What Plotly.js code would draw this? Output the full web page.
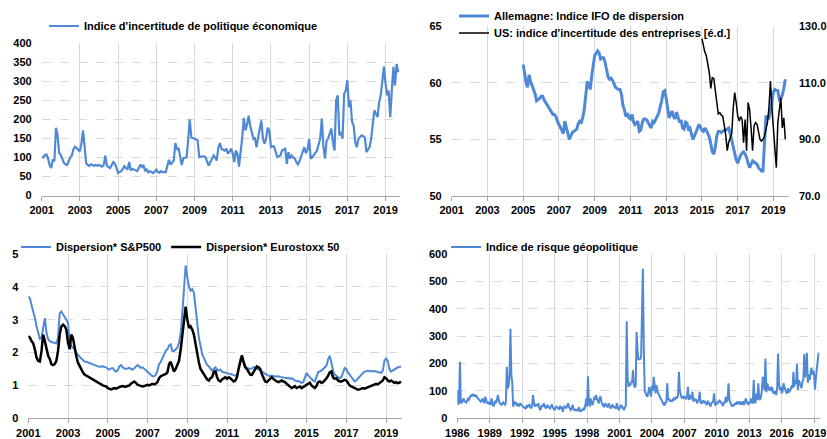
<!DOCTYPE html>
<html><head><meta charset="utf-8">
<script src="https://cdn.plot.ly/plotly-3.0.1.min.js"></script>
<style>html,body{margin:0;padding:0;background:#fff;}#chart{width:827px;height:439px;}</style>
</head><body><div id="chart"></div>
<script>
// ---------- DATA ----------
// Panel 1: Economic policy uncertainty index, monthly from 2001-01
const epuStart = [2001, 1];
const epu = [
102,100,106,108,98,80,72,95,90,178,158,112,
107,95,86,82,80,90,100,105,122,128,123,118,
116,138,171,130,85,80,78,82,80,78,80,78,
80,78,76,80,105,78,74,72,80,88,84,72,
59,62,64,70,77,72,68,88,66,70,68,66,
64,72,81,75,80,64,70,61,64,62,59,62,
68,62,60,64,61,62,61,78,94,81,87,92,
138,120,125,105,80,98,100,100,145,200,153,150,
149,147,145,101,103,103,103,100,88,79,88,95,
105,100,92,125,138,123,120,118,123,110,115,123,
110,88,118,110,76,110,150,204,171,185,210,184,
165,149,150,127,153,175,197,150,136,149,178,171,
127,129,129,115,101,103,105,118,120,123,83,114,
97,105,100,97,88,82,90,101,115,127,111,120,
149,97,100,105,112,118,136,150,202,130,97,145,
150,165,176,140,118,250,263,158,167,149,268,275,
303,232,250,193,184,140,127,149,155,158,156,153,
114,120,127,149,197,224,215,206,245,263,300,339,
294,263,276,206,276,338,289,346,324];

// Panel 2: IFO dispersion (left axis), monthly from 2005-01
const ifoStart = [2005, 1];
const ifo = [
61.6,60.8,60.0,59.6,60.7,60.1,59.8,59.4,59.0,58.4,58.5,58.6,
58.8,58.8,58.5,58.3,58.0,57.8,57.6,57.4,57.2,57.2,57.0,56.6,
56.3,56.0,55.7,55.5,56.6,56.0,55.4,55.0,55.3,55.6,55.7,55.8,
55.9,56.4,56.6,56.5,56.9,57.6,59.2,60.1,59.9,59.4,60.6,61.4,
62.4,62.6,62.8,62.6,62.1,62.2,62.2,61.8,61.0,60.5,60.3,60.4,
60.2,59.8,59.6,59.5,59.4,59.4,59.0,58.0,57.6,57.0,57.3,56.9,
56.8,57.2,56.6,56.3,56.4,56.6,55.7,55.8,56.5,56.8,56.8,56.7,
56.4,56.2,56.0,56.6,56.5,56.8,57.0,57.3,57.9,58.4,59.2,59.3,
58.6,57.5,56.9,57.2,57.5,57.0,56.8,57.4,57.0,56.5,56.7,56.0,
55.9,56.5,56.4,55.9,56.0,55.5,55.0,55.3,55.7,56.0,56.3,56.1,
55.8,55.7,56.0,55.8,55.5,55.2,54.6,53.9,53.7,54.3,55.3,55.7,
55.7,55.6,55.7,55.8,55.8,55.9,56.0,55.5,54.9,54.2,53.8,53.2,
52.9,53.3,53.6,53.8,53.9,53.7,53.4,52.9,52.5,52.8,53.1,53.0,
52.9,52.8,52.5,52.3,52.2,52.2,54.7,57.0,57.0,56.9,57.5,58.5,
59.2,59.4,59.3,59.3,58.5,58.6,58.9,59.5,60.3];

// Panel 2: US business uncertainty (right axis), monthly from 2015-01
const usStart = [2015, 1];
const usUnc = [
125.5,122.5,120.8,119.5,116,113.5,108,111.8,111.5,106.5,103,99,
99.4,98.5,98.2,95,91.5,86,89,90.5,92,101,106.5,103,
98.2,96.5,98,97,88.8,97,86,103,100.5,94,86,94.7,
95.9,95.3,92,90,89.4,90,91,93.5,96,101,110.6,101,
94,88,80,96,100,104.7,94,97.6,90];

// Panel 3: dispersion, monthly from 2001-01
const dispStart = [2001, 1];
const dispSP = [
3.72,3.64,3.45,3.27,3.06,2.80,2.60,2.42,2.45,2.80,3.05,2.60,
2.40,2.35,2.32,2.30,2.30,2.28,2.45,3.20,3.25,3.18,3.10,3.00,
2.90,2.30,2.20,2.15,2.10,2.00,1.92,1.88,1.82,1.76,1.73,1.72,
1.70,1.68,1.66,1.63,1.60,1.58,1.58,1.57,1.58,1.58,1.56,1.55,
1.50,1.48,1.52,1.53,1.46,1.42,1.45,1.58,1.62,1.55,1.52,1.50,
1.52,1.54,1.50,1.48,1.52,1.56,1.62,1.58,1.53,1.55,1.50,1.45,
1.40,1.35,1.30,1.28,1.28,1.32,1.45,1.65,1.72,1.84,1.95,2.05,
2.10,2.22,2.25,2.05,2.05,2.10,2.15,2.30,2.60,3.20,4.00,4.65,
4.29,4.00,3.88,3.93,3.83,3.30,2.86,2.45,2.20,1.95,1.84,1.70,
1.62,1.58,1.52,1.45,1.50,1.55,1.48,1.45,1.48,1.42,1.40,1.38,
1.38,1.36,1.35,1.33,1.32,1.30,1.30,1.55,1.80,1.88,1.70,1.60,
1.53,1.52,1.50,1.52,1.55,1.55,1.50,1.48,1.46,1.42,1.38,1.35,
1.32,1.30,1.28,1.30,1.28,1.27,1.27,1.28,1.26,1.25,1.24,1.22,
1.22,1.23,1.20,1.22,1.18,1.15,1.12,1.14,1.12,1.08,1.10,1.25,
1.38,1.30,1.25,1.22,1.15,1.12,1.25,1.40,1.43,1.45,1.50,1.55,
1.60,1.80,1.90,1.70,1.45,1.33,1.30,1.25,1.22,1.25,1.40,1.53,
1.50,1.38,1.33,1.25,1.18,1.12,1.15,1.22,1.28,1.32,1.38,1.42,
1.43,1.45,1.43,1.42,1.43,1.44,1.42,1.40,1.38,1.38,1.45,1.75,
1.82,1.75,1.50,1.42,1.45,1.48,1.50,1.55,1.55,1.58];
const dispEU = [
2.50,2.45,2.35,2.28,2.10,1.85,1.75,1.73,2.05,2.55,2.35,2.10,
1.90,1.80,1.65,1.62,1.65,1.75,2.05,2.55,2.80,2.85,2.80,2.70,
2.30,2.10,2.55,2.45,2.15,1.90,1.70,1.58,1.48,1.40,1.33,1.30,
1.25,1.22,1.20,1.18,1.15,1.12,1.08,1.05,1.02,1.00,0.98,0.97,
0.92,0.90,0.88,0.90,0.92,0.90,0.93,0.95,0.97,0.98,0.96,0.97,
0.98,1.00,1.05,1.10,1.12,1.08,1.02,1.00,0.98,0.97,0.98,1.00,
1.02,1.00,1.03,1.05,1.03,1.05,1.10,1.22,1.28,1.30,1.33,1.35,
1.40,1.65,1.72,1.55,1.42,1.50,1.62,1.75,2.10,2.55,3.00,3.40,
3.00,2.75,2.80,2.70,2.55,2.25,2.00,1.70,1.50,1.42,1.33,1.25,
1.18,1.15,1.22,1.25,1.40,1.45,1.25,1.15,1.12,1.18,1.22,1.25,
1.20,1.25,1.22,1.15,1.12,1.15,1.25,1.50,1.75,1.92,1.70,1.55,
1.50,1.40,1.33,1.32,1.40,1.50,1.58,1.55,1.50,1.35,1.20,1.12,
1.10,1.15,1.22,1.25,1.20,1.15,1.12,1.10,1.12,1.15,1.12,1.10,
1.05,1.00,0.95,0.92,0.95,0.98,0.92,0.95,0.97,0.92,0.95,0.98,
1.02,1.05,1.08,1.00,0.95,0.92,0.98,1.10,1.12,1.08,1.10,1.15,
1.22,1.30,1.40,1.43,1.25,1.20,1.22,1.15,1.12,1.12,1.15,1.17,
1.15,1.05,1.00,0.97,0.95,0.93,0.90,0.87,0.88,0.90,0.92,0.90,
0.92,0.95,0.98,1.00,1.00,1.02,1.05,1.03,1.08,1.12,1.15,1.25,
1.22,1.15,1.12,1.15,1.10,1.08,1.10,1.07,1.08,1.12];

// Panel 4: geopolitical risk index, monthly from 1986-01
const gprStart = [1986, 1];
const gpr = [
103,50,60,207,55,58,65,73,62,60,58,65,
72,68,79,85,80,89,82,88,79,85,76,73,
70,65,61,66,72,60,58,79,62,55,60,52,
60,49,73,55,43,50,61,58,65,85,60,55,
52,49,55,58,52,50,60,188,109,120,158,328,
160,128,43,50,61,55,49,52,43,48,55,50,
45,43,40,38,36,45,42,48,50,40,38,45,
85,60,43,50,49,45,55,40,30,38,48,42,
55,45,36,40,49,42,38,36,45,50,40,35,
30,38,43,40,35,32,45,38,40,24,35,43,
40,38,45,55,42,38,30,35,50,35,30,32,
30,28,35,38,24,30,28,32,35,30,45,73,
43,154,60,43,73,55,49,60,79,68,85,70,
61,55,75,80,60,48,45,43,55,50,45,40,
55,45,36,40,50,45,38,43,35,55,40,30,
35,45,49,42,38,30,40,45,355,152,115,128,
120,135,130,176,120,115,118,316,250,213,220,215,
225,380,547,260,103,91,85,79,95,115,100,79,
120,100,152,110,91,121,100,90,85,73,70,65,
55,50,49,60,55,128,67,70,62,67,60,65,
73,68,70,79,72,85,170,100,85,73,80,75,
79,75,70,80,115,67,75,85,70,97,61,73,
65,70,55,60,67,97,58,55,61,65,55,60,
55,49,61,58,50,43,55,60,62,91,50,49,
55,60,58,65,62,55,50,45,60,55,79,60,
70,128,67,60,55,43,50,45,55,50,60,55,
61,55,60,50,55,62,49,55,73,60,55,50,
60,55,73,58,55,140,55,60,90,67,128,75,
67,80,100,152,115,103,219,95,128,110,103,115,
100,115,95,90,100,90,85,110,237,128,103,115,
91,100,128,115,103,95,90,110,95,100,105,120,
110,170,115,140,125,200,103,140,128,120,110,135,
140,235,150,175,240,130,160,140,170,185,160,175,
155,105,150,190,215,240];

// Legend labels
const labels = {
  epu: "Indice d'incertitude de politique économique",
  ifo: "Allemagne: Indice IFO de dispersion",
  us: "US: indice d'incertitude des entreprises [é.d.]",
  sp: "Dispersion* S&amp;P500",
  eu: "Dispersion* Eurostoxx 50",
  gpr: "Indice de risque géopolitique"
};

// ---------- HELPERS ----------
function monthDates(start, n) {
  const out = [];
  for (let i = 0; i < n; i++) {
    const t = start[0] * 12 + (start[1] - 1) + i;
    const y = Math.floor(t / 12), m = t % 12 + 1;
    out.push(y + '-' + String(m).padStart(2, '0') + '-01');
  }
  return out;
}
const W = 827, H = 439;
const fx = p => p / W;
const fy = p => 1 - p / H;

const BLUE = '#4f89d6';
const FONT = {family: 'Liberation Sans, Arial, sans-serif', size: 11, color: '#000', weight: 'bold'};

const traces = [
  {x: monthDates(epuStart, epu.length), y: epu, type: 'scatter', mode: 'lines', name: labels.epu,
   line: {color: BLUE, width: 2.2}, xaxis: 'x', yaxis: 'y', legend: 'legend'},
  {x: monthDates(ifoStart, ifo.length), y: ifo, type: 'scatter', mode: 'lines', name: labels.ifo,
   line: {color: BLUE, width: 3}, xaxis: 'x2', yaxis: 'y2', legend: 'legend2'},
  {x: monthDates(usStart, usUnc.length), y: usUnc, type: 'scatter', mode: 'lines', name: labels.us,
   line: {color: '#000', width: 1.5}, xaxis: 'x2', yaxis: 'y3', legend: 'legend3'},
  {x: monthDates(dispStart, dispSP.length), y: dispSP, type: 'scatter', mode: 'lines', name: labels.sp,
   line: {color: BLUE, width: 2}, xaxis: 'x3', yaxis: 'y4', legend: 'legend4'},
  {x: monthDates(dispStart, dispEU.length), y: dispEU, type: 'scatter', mode: 'lines', name: labels.eu,
   line: {color: '#000', width: 2.5}, xaxis: 'x3', yaxis: 'y4', legend: 'legend4'},
  {x: monthDates(gprStart, gpr.length), y: gpr, type: 'scatter', mode: 'lines', name: labels.gpr,
   line: {color: BLUE, width: 2}, xaxis: 'x4', yaxis: 'y5', legend: 'legend5'}
];

function xAx(domain, range, tick0, dtick, anchor) {
  return {domain: domain, range: range, type: 'date', tick0: tick0, dtick: dtick, tickformat: '%Y',
    anchor: anchor, showline: true, linecolor: '#a6a6a6', linewidth: 1, ticks: 'outside', ticklen: 4,
    tickcolor: '#a6a6a6', showgrid: true, gridcolor: '#d9d9d9', gridwidth: 1, zeroline: false,
    tickfont: FONT, fixedrange: true};
}
function yAx(domain, range, dtick, anchor, extra) {
  return Object.assign({domain: domain, range: range, dtick: dtick, tick0: 0, anchor: anchor,
    showline: false, ticks: '', showgrid: true, gridcolor: '#d9d9d9', griddash: 'dash', gridwidth: 1,
    zeroline: false, tickfont: FONT, ticklabelstandoff: 9, fixedrange: true}, extra || {});
}
function leg(x, y, orient) {
  return {x: fx(x), y: fy(y), xanchor: 'left', yanchor: 'middle', orientation: orient || 'v',
    bgcolor: 'rgba(0,0,0,0)', borderwidth: 0, font: FONT, itemwidth: 30, tracegroupgap: 0};
}

const layout = {
  width: W, height: H, margin: {l: 0, r: 0, t: 0, b: 0},
  paper_bgcolor: '#fff', plot_bgcolor: 'rgba(0,0,0,0)', font: FONT, showlegend: true,
  xaxis: xAx([fx(41.7), fx(399.5)], ['2001-01-01', '2019-09-25'], '2001-01-01', 'M24', 'y'),
  yaxis: yAx([fy(195.5), fy(43.3)], [0, 400], 50, 'x'),
  xaxis2: xAx([fx(451.7), fx(789)], ['2001-01-01', '2019-11-15'], '2001-01-01', 'M24', 'y2'),
  yaxis2: yAx([fy(196), fy(26)], [50, 65], 5, 'x2'),
  yaxis3: yAx([fy(196), fy(26)], [70, 130], 20, 'x2', {overlaying: 'y2', side: 'right', showgrid: false,
    tickformat: '.1f', tick0: 70}),
  xaxis3: xAx([fx(28.3), fx(402)], ['2001-01-01', '2019-10-20'], '2001-01-01', 'M24', 'y4'),
  yaxis4: yAx([fy(418.3), fy(254)], [0, 5], 1, 'x3'),
  xaxis4: xAx([fx(457.3), fx(819.5)], ['1986-01-01', '2019-07-01'], '1986-01-01', 'M36', 'y5'),
  yaxis5: yAx([fy(418.3), fy(254.3)], [0, 600], 100, 'x4'),
  legend: leg(44, 26),
  legend2: leg(454, 16),
  legend3: leg(454, 33),
  legend4: leg(16, 247, 'h'),
  legend5: leg(446, 247)
};

Plotly.newPlot('chart', traces, layout, {displayModeBar: false, staticPlot: true});
</script>
</body></html>
